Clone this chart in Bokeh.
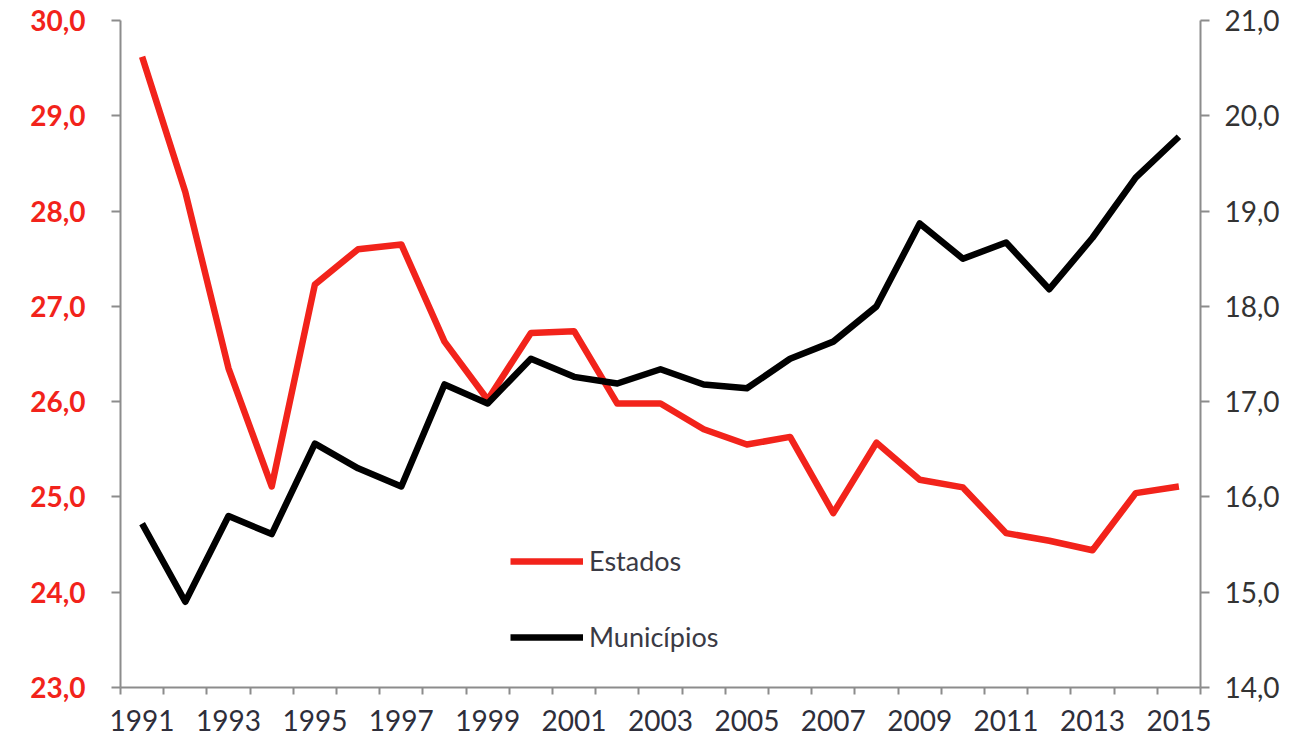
from bokeh.plotting import figure
from bokeh.models import Range1d, LinearAxis, FixedTicker, CustomJSTickFormatter, Legend, LegendItem
from bokeh.embed import file_html
from bokeh.resources import INLINE

years = list(range(1991, 2016))
estados = [29.62, 28.2, 26.35, 25.11, 27.23, 27.6, 27.65, 26.63, 26.02, 26.72, 26.74, 25.98, 25.98,
           25.71, 25.55, 25.63, 24.83, 25.57, 25.18, 25.1, 24.62, 24.54, 24.44, 25.04, 25.11]
municipios = [15.72, 14.90, 15.80, 15.61, 16.56, 16.30, 16.11, 17.18, 16.98, 17.45, 17.26, 17.19, 17.34,
              17.18, 17.14, 17.45, 17.63, 18.0, 18.87, 18.50, 18.67, 18.18, 18.72, 19.35, 19.78]
left_ticks = [23, 24, 25, 26, 27, 28, 29, 30]
right_ticks = [14, 15, 16, 17, 18, 19, 20, 21]
year_labels = list(range(1991, 2016, 2))
series_names = ["Estados", "Municípios"]

FONT = "Lato"
RED = "#f2231b"
AXIS_GRAY = "#8c8c8c"

p = figure(width=1290, height=739, output_backend="svg", toolbar_location=None,
           x_range=Range1d(years[0] - 0.5, years[-1] + 0.5), y_range=Range1d(left_ticks[0], left_ticks[-1]),
           min_border_left=120, min_border_right=90, min_border_top=20, min_border_bottom=52)
p.outline_line_color = None
p.grid.visible = False
p.background_fill_color = "white"
p.border_fill_color = "white"

p.extra_y_ranges = {"right": Range1d(right_ticks[0], right_ticks[-1])}

fmt = CustomJSTickFormatter(code="return tick.toFixed(1).replace('.', ',');")

# x axis
xa = p.xaxis[0]
xa.ticker = FixedTicker(ticks=year_labels, minor_ticks=[y - 0.5 for y in years] + [years[-1] + 0.5])
xa.major_tick_out = 0
xa.major_tick_in = 0
xa.minor_tick_out = 7
xa.minor_tick_in = 0
xa.minor_tick_line_color = AXIS_GRAY
xa.minor_tick_line_width = 2
xa.axis_line_color = AXIS_GRAY
xa.axis_line_width = 2
xa.major_label_text_font = FONT
xa.major_label_text_font_size = "28px"
xa.major_label_text_color = "#2e2e3a"
xa.major_label_standoff = 15
xa.major_label_overrides = {y: str(y) for y in year_labels}

# left axis
ya = p.yaxis[0]
ya.ticker = FixedTicker(ticks=left_ticks)
ya.formatter = fmt
ya.major_tick_out = 9
ya.major_tick_in = 0
ya.minor_tick_out = 0
ya.minor_tick_in = 0
ya.major_tick_line_color = AXIS_GRAY
ya.major_tick_line_width = 2
ya.axis_line_color = AXIS_GRAY
ya.axis_line_width = 2
ya.major_label_text_font = FONT
ya.major_label_text_font_size = "28px"
ya.major_label_text_color = RED
ya.major_label_text_font_style = "bold"
ya.major_label_standoff = 26

# right axis
ra = LinearAxis(y_range_name="right", ticker=FixedTicker(ticks=right_ticks), formatter=fmt)
ra.major_tick_out = 9
ra.major_tick_in = 0
ra.minor_tick_out = 0
ra.minor_tick_in = 0
ra.major_tick_line_color = AXIS_GRAY
ra.major_tick_line_width = 2
ra.axis_line_color = AXIS_GRAY
ra.axis_line_width = 2
ra.major_label_text_font = FONT
ra.major_label_text_font_size = "28px"
ra.major_label_text_color = "#333333"
ra.major_label_standoff = 15
p.add_layout(ra, "right")

r1 = p.line(years, estados, line_color=RED, line_width=6.5, line_join="round")
r2 = p.line(years, municipios, line_color="black", line_width=6.5, line_join="round", y_range_name="right")

legend = Legend(items=[LegendItem(label=series_names[0], renderers=[r1]),
                       LegendItem(label=series_names[1], renderers=[r2])],
                location=(390, 34), orientation="vertical")
legend.border_line_color = None
legend.background_fill_alpha = 0
legend.padding = 0
legend.margin = 0
legend.spacing = 43
legend.glyph_width = 73
legend.glyph_height = 30
legend.label_height = 30
legend.label_standoff = 6
legend.label_text_font = FONT
legend.label_text_font_size = "27px"
legend.label_text_color = "#3a3a44"
p.add_layout(legend, "center")

open("out.html", "w").write(file_html(p, INLINE))
